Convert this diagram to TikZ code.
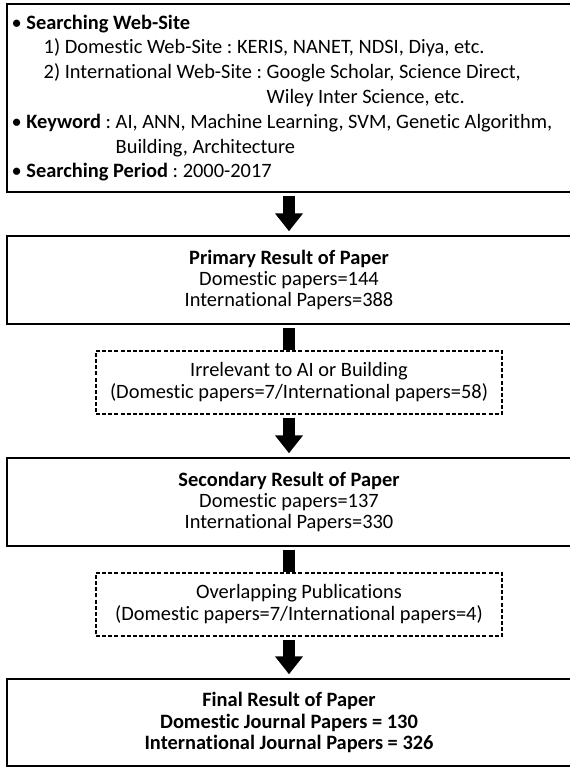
\documentclass[tikz,border=0pt]{standalone}
\usepackage{fontspec}
\setmainfont{Carlito}[Ligatures={NoCommon}]
\usepackage{tikz}
\usetikzlibrary{arrows.meta, positioning, calc}
\frenchspacing

\begin{document}
\begin{tikzpicture}[
    x=0.75pt, y=-0.75pt,
    infobox/.style={draw, line width=1.1pt, minimum width=423pt, minimum height=141pt, inner xsep=3.5pt,
                    text width=416pt, align=flush left, font=\fontsize{15.3pt}{18.6pt}\selectfont},
    resultbox/.style={draw, line width=1.1pt, minimum width=423pt, minimum height=66pt,
                      align=center, font=\fontsize{15.3pt}{16pt}\selectfont},
    filterbox/.style={draw, line width=0.9pt, dash pattern=on 3pt off 1.6pt, minimum width=304.5pt,
                      minimum height=47.25pt, align=center, font=\fontsize{15.3pt}{16.5pt}\selectfont},
    fatarrow/.style={line width=9pt, -{Triangle[width=20.25pt, length=13.5pt]}},
    fatline/.style={line width=9pt}
]
\useasboundingbox (0,0) rectangle (570,767);
\node[infobox] (search) at (289,98) {%
  • \textbf{Searching Web-Site}\\
  \hspace*{24pt}1) Domestic Web-Site : KERIS, NANET, NDSI, Diya, etc.\\
  \hspace*{24pt}2) International Web-Site : Google Scholar, Science Direct,\\
  \hspace*{24pt}\phantom{2) International Web-Site : }Wiley Inter Science, etc.\\
  • \textbf{Keyword} : AI, ANN, Machine Learning, SVM, Genetic Algorithm,\\
  \phantom{• \textbf{Keyword} : }Building, Architecture\\
  • \textbf{Searching Period} : 2000-2017};
\node[resultbox] (primary) at (289,280) {\textbf{Primary Result of Paper}\\ Domestic papers=144\\ International Papers=388};
\node[filterbox] (irrelevant) at (299,382.5) {Irrelevant to AI or Building\\ (Domestic papers=7/International papers=58)};
\node[resultbox] (secondary) at (289,502) {\textbf{Secondary Result of Paper}\\ Domestic papers=137\\ International Papers=330};
\node[filterbox] (overlap) at (299,604.5) {Overlapping Publications\\ (Domestic papers=7/International papers=4)};
\node[resultbox, minimum height=65.25pt] (final) at (289,722.5) {\textbf{Final Result of Paper}\\ \textbf{Domestic Journal Papers = 130}\\ \textbf{International Journal Papers = 326}};
% connectors
\draw[fatarrow, shorten <=2.25pt, shorten >=3pt] (search) -- (primary);
\draw[fatline, shorten <=2.25pt] (primary.south) -- (primary.south |- irrelevant.north);
\draw[fatarrow, shorten <=2.25pt, shorten >=3pt] (irrelevant.south -| primary.south) -- (secondary.north);
\draw[fatline, shorten <=2.25pt] (secondary.south) -- (secondary.south |- overlap.north);
\draw[fatarrow, shorten <=2.25pt, shorten >=3pt] (overlap.south -| secondary.south) -- (final.north);
\end{tikzpicture}
\end{document}
